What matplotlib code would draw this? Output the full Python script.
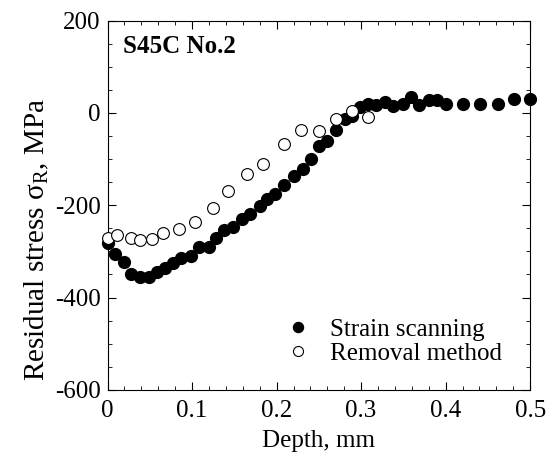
import matplotlib
matplotlib.use('Agg')
import matplotlib.pyplot as plt
from matplotlib.ticker import MultipleLocator

# strain scanning (filled circles)
scan_depth = [0.0, 0.0087, 0.019, 0.028, 0.038, 0.049, 0.058, 0.068, 0.077, 0.087,
              0.099, 0.108, 0.12, 0.128, 0.138, 0.149, 0.159, 0.169, 0.18, 0.189,
              0.198, 0.209, 0.221, 0.231, 0.241, 0.25, 0.26, 0.27, 0.281, 0.289,
              0.299, 0.308, 0.318, 0.328, 0.338, 0.349, 0.359, 0.369, 0.38, 0.39,
              0.401, 0.421, 0.441, 0.462, 0.481, 0.5]
scan_stress = [-281, -306, -324, -349, -355, -355, -344, -337, -326, -315,
               -310, -290, -290, -270, -254, -247, -230, -218, -201, -186,
               -175, -157, -137, -121, -101, -72, -60, -38, -13, -6,
               12, 19, 16, 23, 14, 19, 34, 17, 27, 27,
               19, 19, 19, 19, 29, 30]

# removal method (open circles)
removal_depth = [0.0, 0.0115, 0.028, 0.038, 0.052, 0.065, 0.084, 0.104, 0.125, 0.143,
                 0.165, 0.184, 0.209, 0.229, 0.25, 0.27, 0.289, 0.308]
removal_stress = [-272, -265, -270, -276, -273, -261, -252, -236, -205, -170,
                  -132, -110, -68, -37, -40, -13, 5, -9]

plt.rcParams['font.family'] = ['Liberation Serif', 'DejaVu Serif']
plt.rcParams['mathtext.fontset'] = 'custom'
plt.rcParams['mathtext.rm'] = 'Liberation Serif'
plt.rcParams['axes.unicode_minus'] = False

fig = plt.figure(figsize=(5.46, 4.57), dpi=100)
ax = fig.add_axes([0.197, 0.147, 0.774, 0.808])

ax.plot(scan_depth, scan_stress, 'o', color='black', markersize=8.5,
        label='Strain scanning', clip_on=False, zorder=3)
ax.plot(removal_depth, removal_stress, 'o', markerfacecolor='white',
        markeredgecolor='black', markeredgewidth=0.8, markersize=8.5,
        label='Removal method', clip_on=False, zorder=4)

ax.set_xlim(0, 0.5)
ax.set_ylim(-600, 200)
ax.xaxis.set_minor_locator(MultipleLocator(0.02))
ax.yaxis.set_major_locator(MultipleLocator(200))
ax.yaxis.set_minor_locator(MultipleLocator(50))
ax.set_xticks([0, 0.1, 0.2, 0.3, 0.4, 0.5])
ax.set_xticklabels(['0', '0.1', '0.2', '0.3', '0.4', '0.5'])
ax.tick_params(which='both', direction='in', top=True, right=True)
ax.tick_params(which='major', length=6, width=0.8, labelsize=18)
ax.tick_params(axis='x', which='major', pad=7)
ax.tick_params(axis='y', which='major', pad=5)
ax.tick_params(which='minor', length=3, width=0.6)

ax.set_xlabel('Depth, mm', fontsize=18, labelpad=6)
ax.set_ylabel(r'Residual stress σ$_\mathrm{R}$, MPa', fontsize=21)
ax.yaxis.set_label_coords(-0.135, 0.406)

ax.text(0.036, 0.931, 'S45C No.2', transform=ax.transAxes, fontsize=18,
        fontweight='bold', va='center')

ax.legend(loc='center left', bbox_to_anchor=(0.421, 0.13), frameon=False,
          fontsize=18, handletextpad=0.78, borderpad=0, borderaxespad=0,
          labelspacing=0.05, handlelength=1.0, markerscale=0.85)

fig.savefig('out.png', dpi=100)
